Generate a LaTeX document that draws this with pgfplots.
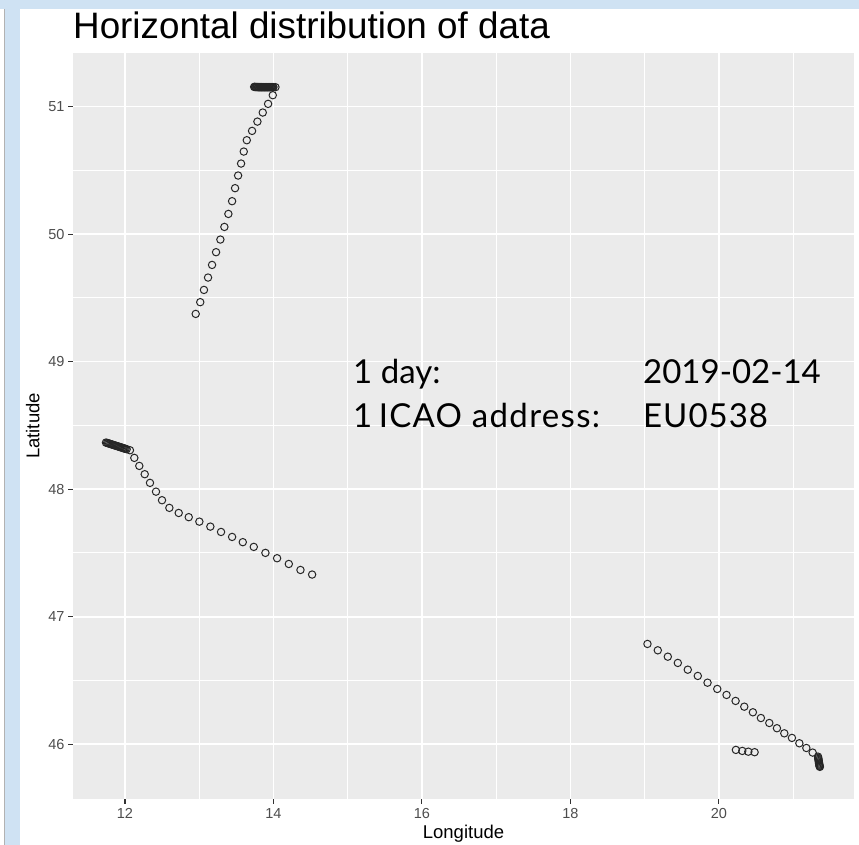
\documentclass[border=0pt]{standalone}
\usepackage{fontspec}
\setmainfont{Liberation Sans}
\newfontfamily\annotfont{Lato}
\usepackage{pgfplots}
\pgfplotsset{compat=1.18}
\usepackage{pgfplotstable}
\definecolor{framebl}{HTML}{CFE2F3}
\definecolor{panelgray}{HTML}{EBEBEB}
\definecolor{ticklab}{HTML}{4D4D4D}
\definecolor{tickcol}{HTML}{333333}

\pgfplotstableread{
lon lat
12.953 49.374
13.014 49.466
13.064 49.562
13.119 49.659
13.173 49.758
13.227 49.858
13.285 49.957
13.339 50.056
13.393 50.158
13.443 50.258
13.483 50.360
13.524 50.459
13.564 50.553
13.600 50.647
13.641 50.736
13.712 50.809
13.784 50.882
13.856 50.953
13.928 51.021
13.991 51.089
14.027 51.152
13.740 51.154
13.750 51.154
13.760 51.153
13.770 51.153
13.780 51.153
13.790 51.153
13.800 51.152
13.810 51.152
13.820 51.152
13.830 51.152
13.840 51.152
13.850 51.152
13.860 51.152
13.870 51.152
13.880 51.152
13.890 51.152
13.900 51.152
13.910 51.152
13.920 51.152
13.930 51.152
13.940 51.152
13.950 51.152
13.960 51.152
13.970 51.152
13.980 51.152
13.990 51.152
14.000 51.152
}\northtrack

\pgfplotstableread{
lon lat
11.744 48.365
11.759 48.362
11.773 48.360
11.788 48.357
11.803 48.354
11.817 48.351
11.832 48.349
11.847 48.346
11.862 48.343
11.876 48.340
11.891 48.338
11.906 48.335
11.920 48.332
11.935 48.329
11.950 48.327
11.964 48.324
11.979 48.321
11.994 48.318
12.008 48.316
12.023 48.313
12.067 48.305
12.126 48.245
12.193 48.182
12.266 48.117
12.337 48.049
12.418 47.980
12.499 47.913
12.598 47.853
12.724 47.813
12.859 47.780
13.002 47.745
13.150 47.706
13.294 47.664
13.443 47.625
13.587 47.584
13.735 47.547
13.892 47.500
14.049 47.458
14.207 47.413
14.364 47.366
14.521 47.330
}\westtrack

\pgfplotstableread{
lon lat
19.038 46.786
19.177 46.736
19.312 46.686
19.447 46.637
19.581 46.584
19.716 46.535
19.847 46.482
19.978 46.433
20.103 46.386
20.225 46.339
20.342 46.294
20.458 46.250
20.566 46.205
20.679 46.166
20.782 46.125
20.881 46.085
20.984 46.049
21.084 46.007
21.178 45.970
21.263 45.934
21.335 45.902
21.338 45.893
21.340 45.884
21.343 45.875
21.345 45.866
21.348 45.857
21.350 45.848
21.352 45.840
21.355 45.832
21.358 45.826
21.360 45.822
}\easttrack

\pgfplotstableread{
lon lat
20.229 45.955
20.315 45.947
20.396 45.941
20.481 45.937
}\smallcluster

\begin{document}
\begin{tikzpicture}[x=1pt,y=1pt]
\useasboundingbox (0,0) rectangle (859,845);
\fill[white] (0,0) rectangle (859,845);
\fill[framebl] (0,836) rectangle (859,845);
\fill[framebl] (4,0) rectangle (20,836);
\draw[black!30, line width=0.8pt] (4,0) -- (4,836);
\begin{axis}[
  at={(73pt,46pt)}, anchor=south west,
  scale only axis, width=781pt, height=746pt,
  xmin=11.30, xmax=21.82, ymin=45.57, ymax=51.42,
  axis background/.style={fill=panelgray},
  axis line style={draw=none},
  grid=both,
  major grid style={white, line width=1.8pt},
  minor grid style={white, line width=0.9pt},
  xtick={12,14,16,18,20},
  ytick={46,47,48,49,50,51},
  minor xtick={13,15,17,19,21},
  minor ytick={46.5,47.5,48.5,49.5,50.5},
  tick pos=left,
  tick align=outside,
  major tick length=5pt,
  minor tick length=0pt,
  tick style={color=tickcol, line width=1.1pt},
  /pgf/number format/assume math mode=true,
  ticklabel style={font=\fontsize{14.5}{14.5}\selectfont, text=ticklab},
  xticklabel style={yshift=-1pt},
  xlabel={Longitude}, ylabel={Latitude},
  label style={font=\fontsize{18.5}{18.5}\selectfont},
  xlabel style={yshift=1pt},
  ylabel style={yshift=2pt},
  clip=false,
]
\addplot[only marks, mark=o, mark size=3.7pt, mark options={line width=1pt, draw=black!85}] table[x=lon,y=lat] {\northtrack};
\addplot[only marks, mark=o, mark size=3.7pt, mark options={line width=1pt, draw=black!85}] table[x=lon,y=lat] {\westtrack};
\addplot[only marks, mark=o, mark size=3.7pt, mark options={line width=1pt, draw=black!85}] table[x=lon,y=lat] {\easttrack};
\addplot[only marks, mark=o, mark size=3.7pt, mark options={line width=1pt, draw=black!85}] table[x=lon,y=lat] {\smallcluster};
\end{axis}
\node[anchor=base west, inner sep=0pt, font=\fontsize{36.8}{36.8}\selectfont] at (73,806) {Horizontal distribution of data};
\node[anchor=base west, inner sep=0pt, font=\annotfont\fontsize{33}{33}\selectfont] at (353,461) {1 day:};
\node[anchor=base west, inner sep=0pt, font=\annotfont\fontsize{33}{33}\selectfont] at (643,461) {2019-02-14};
\node[anchor=base west, inner sep=0pt, font=\annotfont\fontsize{33}{33}\selectfont] at (353,417) {1\kern-2pt{} \addfontfeature{LetterSpace=4}ICAO address:};
\node[anchor=base west, inner sep=0pt, font=\annotfont\fontsize{33}{33}\selectfont] at (643,417) {\addfontfeature{LetterSpace=3}EU0538};
\end{tikzpicture}
\end{document}
